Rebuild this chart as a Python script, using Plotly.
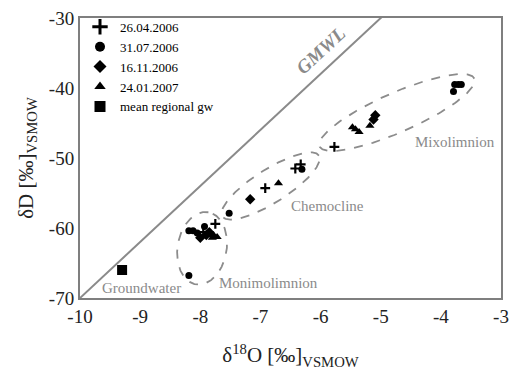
import numpy as np
import plotly.graph_objects as go

# ---- data ----
series_names = ["26.04.2006", "31.07.2006", "16.11.2006", "24.01.2007", "mean regional gw"]
plus_x = [-7.75, -7.95, -6.92, -6.42, -6.33, -5.77]
plus_y = [-59.4, -60.6, -54.3, -51.5, -50.9, -48.4]
circ_x = [-8.19, -8.19, -8.12, -8.05, -7.93, -7.52, -6.31, -3.77, -3.79, -3.71, -3.66]
circ_y = [-66.8, -60.4, -60.4, -60.7, -59.8, -57.9, -51.6, -39.5, -40.5, -39.5, -39.5]
diam_x = [-8.0, -7.9, -7.85, -7.17, -5.09, -5.12]
diam_y = [-61.4, -61.0, -60.6, -55.9, -43.9, -44.5]
tri_x = [-7.85, -7.78, -7.72, -7.8, -6.70, -5.47, -5.42, -5.36, -5.18]
tri_y = [-60.7, -61.0, -61.3, -61.4, -53.6, -45.6, -45.9, -46.3, -45.4]
gw_x = [-9.3]
gw_y = [-66.0]

x_range = [-10, -3]
y_range = [-70, -30]
x_ticks = [-10, -9, -8, -7, -6, -5, -4, -3]
y_ticks = [-70, -60, -50, -40, -30]

# GMWL: dD = 8 d18O + 10
gmwl_x = np.array(x_range, dtype=float)
gmwl_y = 8 * gmwl_x + 10

W, H = 517, 381
ML, MR, MT, MB = 80, 8, 15, 83
pw = W - ML - MR
ph = H - MT - MB
sx = pw / (x_range[1] - x_range[0])
sy = ph / (y_range[1] - y_range[0])

# ellipses: (center x, center y, half-long px, half-short px, angle deg)
ellipses = [
    (-7.97, -62.9, 37, 25, 80),
    (-6.83, -54.0, 58, 17, 32),
    (-4.73, -43.5, 86, 20, 23.5),
]

GREY = "#7f7f7f"
FONT = "Liberation Serif"

fig = go.Figure()

fig.add_trace(go.Scatter(x=gmwl_x, y=gmwl_y, mode="lines",
                         line=dict(color="#8a8a8a", width=2), showlegend=False,
                         hoverinfo="skip"))

t = np.linspace(0, 2 * np.pi, 200)
for cx, cy, a, b, ang in ellipses:
    th = np.deg2rad(ang)
    dx = a * np.cos(t) * np.cos(th) - b * np.sin(t) * np.sin(th)
    dy = a * np.cos(t) * np.sin(th) + b * np.sin(t) * np.cos(th)
    fig.add_trace(go.Scatter(x=cx + dx / sx, y=cy + dy / sy, mode="lines",
                             line=dict(color="#8c8c8c", width=1.8, dash="dash"),
                             showlegend=False, hoverinfo="skip"))

symbols = ["cross-thin", "circle", "diamond", "triangle-up", "square"]
data_sizes = [7, 7, 8, 8, 10]
legend_sizes = [11, 10, 10, 10, 11]
xs = [plus_x, circ_x, diam_x, tri_x, gw_x]
ys = [plus_y, circ_y, diam_y, tri_y, gw_y]

for name, sym, ds, ls, x, y in zip(series_names, symbols, data_sizes, legend_sizes, xs, ys):
    lw = 2.2 if sym == "cross-thin" else 0
    fig.add_trace(go.Scatter(x=x, y=y, mode="markers", name=name, showlegend=False,
                             marker=dict(symbol=sym, size=ds, color="black",
                                         line=dict(width=lw, color="black"))))
    lw2 = 3 if sym == "cross-thin" else 0
    fig.add_trace(go.Scatter(x=[None], y=[None], mode="markers", name=name, showlegend=True,
                             marker=dict(symbol=sym, size=ls, color="black",
                                         line=dict(width=lw2, color="black"))))

ann_font = dict(family=FONT, size=15, color="#8a8a8a")
fig.add_annotation(x=-6.0, y=-34.6, text="<b><i>GMWL</i></b>", showarrow=False,
                   textangle=-43, font=dict(family=FONT, size=19, color="#8a8a8a"))
fig.add_annotation(x=-3.77, y=-47.7, text="Mixolimnion", showarrow=False, font=ann_font)
fig.add_annotation(x=-5.88, y=-56.9, text="Chemocline", showarrow=False, font=ann_font)
fig.add_annotation(x=-6.87, y=-67.9, text="Monimolimnion", showarrow=False, font=ann_font)
fig.add_annotation(x=-8.98, y=-68.6, text="Groundwater", showarrow=False, font=ann_font)

axis_common = dict(showgrid=False, zeroline=False, showline=True, mirror=True,
                   linecolor=GREY, linewidth=2, ticks="",
                   tickfont=dict(family=FONT, size=19, color="#222"))

fig.update_layout(
    width=W, height=H,
    margin=dict(l=ML, r=MR, t=MT, b=MB),
    paper_bgcolor="white", plot_bgcolor="white",
    xaxis=dict(range=x_range, tickvals=x_ticks, ticktext=[str(v) for v in x_ticks],
               title=dict(text="δ<sup>18</sup>O [‰]<sub>VSMOW</sub>",
                          font=dict(family=FONT, size=21, color="#222"), standoff=22),
               **axis_common),
    yaxis=dict(range=y_range, tickvals=y_ticks, ticktext=[str(v) for v in y_ticks],
               title=dict(text="δD [‰]<sub>VSMOW</sub>",
                          font=dict(family=FONT, size=21, color="#222"), standoff=10),
               **axis_common),
    legend=dict(x=0.0, y=1.022, xanchor="left", yanchor="top",
                bgcolor="rgba(0,0,0,0)", font=dict(family=FONT, size=13, color="black"),
                itemwidth=30, tracegroupgap=0),
    showlegend=True,
)

fig.write_html("out.html")
